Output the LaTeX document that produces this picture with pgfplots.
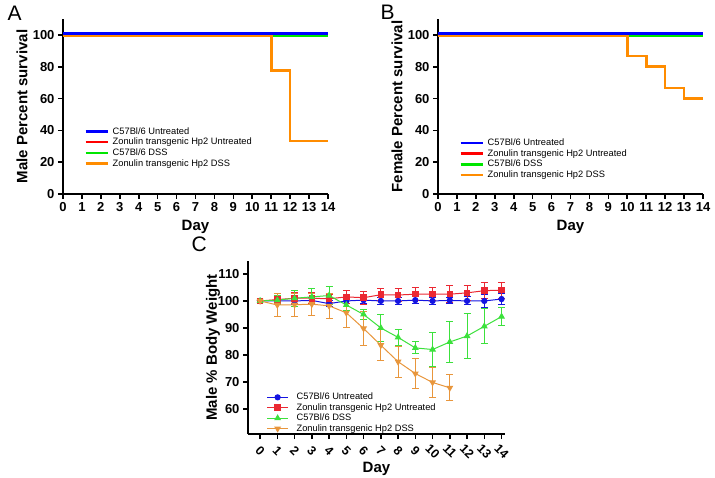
\documentclass[border=0pt]{standalone}
\usepackage{fontspec}
\setmainfont{Liberation Sans}
\usepackage{pgfplots}
\pgfplotsset{compat=1.18}

\definecolor{sblue}{RGB}{0,0,255}
\definecolor{sred}{RGB}{255,0,0}
\definecolor{sgreen}{RGB}{0,230,0}
\definecolor{sorange}{RGB}{255,140,0}
\definecolor{cblue}{RGB}{20,20,225}
\definecolor{cred}{RGB}{235,40,50}
\definecolor{cgreen}{RGB}{60,225,60}
\definecolor{corange}{RGB}{232,150,60}

\pgfplotsset{
  prism/.style={
    scale only axis,
    axis lines=left,
    axis line style={-, line width=2pt},
    tick style={line width=1.6pt, black},
    tick align=outside,
    major tick length=5pt,
    tick label style={font=\fontsize{13}{13}\selectfont\bfseries},
    /pgf/number format/assume math mode=true,
    label style={font=\fontsize{15}{15}\selectfont\bfseries},
    xlabel style={at={(axis description cs:0.5,0)}, anchor=center, yshift=-33pt},
    ylabel style={at={(axis description cs:0,0.5)}, anchor=center, yshift=41pt},
    legend cell align=left,
    legend style={draw=none, fill=none, font=\fontsize{9.3}{9.3}\selectfont,
      row sep=-1.5pt, anchor=north west},
  },
  surv/.style={line width=2.6pt, forget plot},
  survleg/.style={legend image code/.code={\draw[##1, line width=2.6pt] (0pt,0pt) -- (22pt,0pt); \path (25pt,0pt);}},
}

\begin{document}
\begin{tikzpicture}
\useasboundingbox (0pt,0pt) rectangle (715pt,477pt);

\node[anchor=base west, font=\fontsize{21}{21}\selectfont] at (4pt,456pt) {A};
\node[anchor=base west, font=\fontsize{21}{21}\selectfont] at (377pt,457pt) {B};
\node[anchor=base west, font=\fontsize{21}{21}\selectfont] at (188pt,225pt) {C};

% Panel A
\begin{axis}[prism, survleg,
  at={(63pt,283pt)}, anchor=south west,
  width=265pt, height=175pt,
  xmin=0, xmax=14, ymin=0, ymax=110,
  xtick={0,...,14}, ytick={0,20,...,100},
  xlabel={Day}, ylabel={Male Percent survival},
  legend style={at={(0.068,0.405)}},
]
\addlegendimage{sblue}
\addlegendimage{sred}
\addlegendimage{sgreen}
\addlegendimage{sorange}
\addplot[surv, sred] coordinates {(0,100.3) (14,100.3)};
\addplot[surv, sgreen] coordinates {(0,99.7) (14,99.7)};
\addplot[surv, sorange] coordinates {(0,99.4) (11,99.4) (11,77.8) (12,77.8) (12,33.3) (14,33.3)};
\addplot[surv, sblue] coordinates {(0,100.9) (14,100.9)};
\legend{C57Bl/6 Untreated, Zonulin transgenic Hp2 Untreated, C57Bl/6 DSS, Zonulin transgenic Hp2 DSS}
\end{axis}

% Panel B
\begin{axis}[prism, survleg,
  at={(438pt,283pt)}, anchor=south west,
  width=265pt, height=175pt,
  xmin=0, xmax=14, ymin=0, ymax=110,
  xtick={0,...,14}, ytick={0,20,...,100},
  xlabel={Day}, ylabel={Female Percent survival},
  legend style={at={(0.068,0.34)}},
]
\addlegendimage{sblue}
\addlegendimage{sred}
\addlegendimage{sgreen}
\addlegendimage{sorange}
\addplot[surv, sred] coordinates {(0,100.3) (14,100.3)};
\addplot[surv, sgreen] coordinates {(0,99.7) (14,99.7)};
\addplot[surv, sorange] coordinates {(0,99.4) (10,99.4) (10,86.7) (11,86.7) (11,80) (12,80) (12,66.7) (13,66.7) (13,60) (14,60)};
\addplot[surv, sblue] coordinates {(0,100.9) (14,100.9)};
\legend{C57Bl/6 Untreated, Zonulin transgenic Hp2 Untreated, C57Bl/6 DSS, Zonulin transgenic Hp2 DSS}
\end{axis}

% Panel C
\begin{axis}[prism,
  at={(248pt,43pt)}, anchor=south west,
  width=257pt, height=173pt,
  xmin=-0.7, xmax=14.2, ymin=50.7, ymax=114.8,
  xtick={0,...,14}, ytick={60,70,...,110},
  xticklabel style={anchor=center, yshift=-12pt, rotate=-45, font=\fontsize{12.5}{12.5}\selectfont\bfseries},
  xlabel={Day}, ylabel={Male \% Body Weight},
  xlabel style={yshift=-2pt},
  ylabel style={yshift=-6pt},
  legend style={at={(0.06,0.26)}, row sep=-1.8pt},
  legend image code/.code={\draw[mark repeat=2, mark phase=2, #1] plot coordinates {(0pt,0pt) (10.5pt,0pt) (21pt,0pt)}; \path (27pt,0pt);},
  every axis plot/.append style={line width=1pt,
    error bars/error bar style={line width=1pt},
    error bars/error mark options={rotate=90, mark size=3.5pt, line width=1pt}},
]
\addplot[cblue, mark=*, mark size=2.6pt,
  error bars/.cd, y dir=both, y explicit] coordinates {
  (0,100) +- (0,0)
  (1,100) +- (0,1.0)
  (2,100) +- (0,1.2)
  (3,100.2) +- (0,1.2)
  (4,99) +- (0,1.2)
  (5,100) +- (0,1.0)
  (6,100.3) +- (0,1.2)
  (7,100) +- (0,1.2)
  (8,100) +- (0,1.2)
  (9,100.3) +- (0,1.2)
  (10,100) +- (0,1.3)
  (11,100.2) +- (0,1.2)
  (12,100) +- (0,1.5)
  (13,100) +- (0,2.3)
  (14,100.7) +- (0,2.0)
};
\addplot[cred, mark=square*, mark size=2.8pt,
  error bars/.cd, y dir=both, y explicit] coordinates {
  (0,100) +- (0,0)
  (1,100.5) +- (0,1.5)
  (2,101) +- (0,2)
  (3,101) +- (0,2)
  (4,100.8) +- (0,1.5)
  (5,101.5) +- (0,2.3)
  (6,101.2) +- (0,2.4)
  (7,102.3) +- (0,2.3)
  (8,102.2) +- (0,2.3)
  (9,102.5) +- (0,2.3)
  (10,102.5) +- (0,2.3)
  (11,102.5) +- (0,3.2)
  (12,103) +- (0,2.9)
  (13,103.8) +- (0,2.9)
  (14,104) +- (0,3.0)
};
\addplot[cgreen, mark=triangle*, mark size=3pt,
  error bars/.cd, y dir=both, y explicit] coordinates {
  (0,100) +- (0,0)
  (1,100.3) +- (0,1.8)
  (2,101) +- (0,3)
  (3,101.5) +- (0,3)
  (4,102) +- (0,3.2)
  (5,98.5) +- (0,2)
  (6,95) +- (0,1.8)
  (7,90) +- (0,5)
  (8,86.5) +- (0,3)
  (9,82.6) +- (0,2.2)
  (10,82) +- (0,6.3)
  (11,84.8) +- (0,7.5)
  (12,87) +- (0,8.5)
  (13,90.6) +- (0,6.5)
  (14,94.2) +- (0,3.3)
};
\addplot[corange, mark=triangle*, mark options={rotate=180}, mark size=3pt,
  error bars/.cd, y dir=both, y explicit] coordinates {
  (0,100) +- (0,0)
  (1,98.5) +- (0,4.1)
  (2,98.6) +- (0,4.3)
  (3,98.8) +- (0,4.1)
  (4,98.2) +- (0,4.6)
  (5,95.6) +- (0,5.4)
  (6,89.8) +- (0,6.2)
  (7,83.6) +- (0,5.7)
  (8,77.5) +- (0,5.8)
  (9,73.1) +- (0,5.5)
  (10,69.8) +- (0,5.6)
  (11,67.8) +- (0,4.8)
};
\legend{C57Bl/6 Untreated, Zonulin transgenic Hp2 Untreated, C57Bl/6 DSS, Zonulin transgenic Hp2 DSS}
\end{axis}
\end{tikzpicture}
\end{document}
